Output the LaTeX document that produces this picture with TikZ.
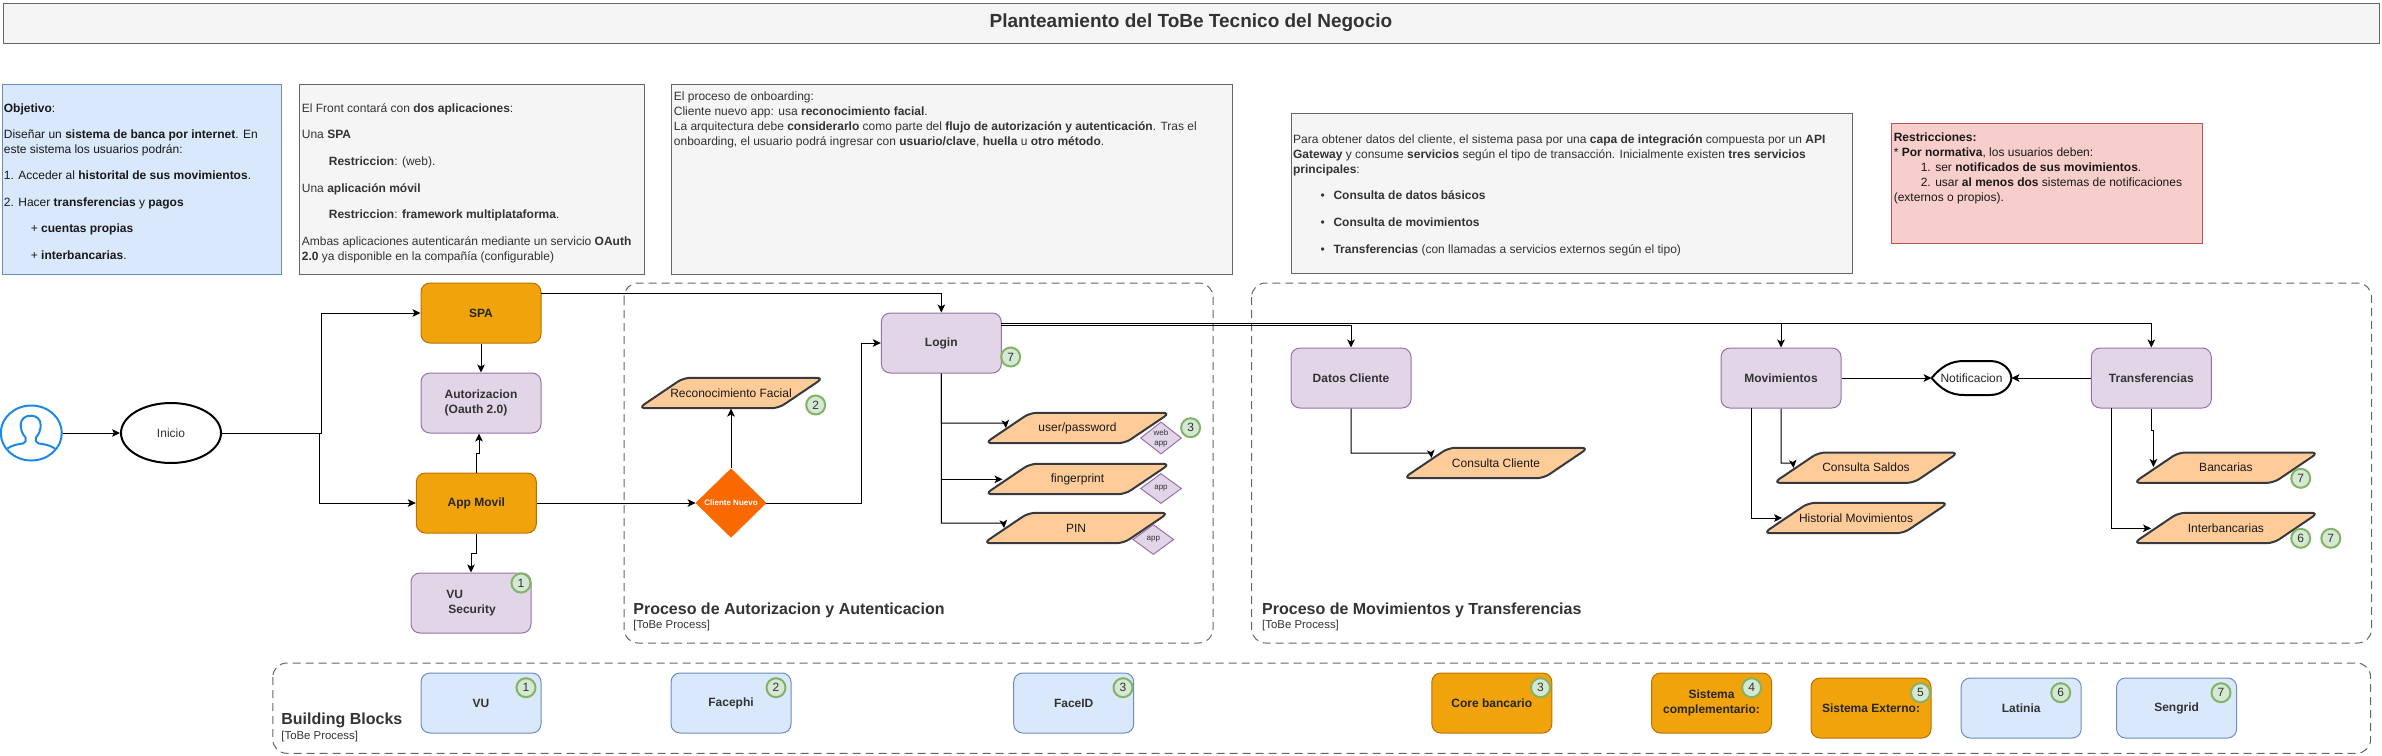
\documentclass[tikz,border=0pt]{standalone}
\usepackage{fontspec}
\setmainfont{Liberation Sans}
\usetikzlibrary{shapes.geometric,arrows.meta,calc}
\definecolor{ink}{HTML}{333333}
\definecolor{grayfill}{HTML}{F5F5F5}
\definecolor{graybd}{HTML}{666666}
\definecolor{bluefill}{HTML}{DAE8FC}
\definecolor{bluebd}{HTML}{6C8EBF}
\definecolor{redfill}{HTML}{F8CECC}
\definecolor{redbd}{HTML}{B85450}
\definecolor{purfill}{HTML}{E1D5E7}
\definecolor{purbd}{HTML}{9673A6}
\definecolor{orgfill}{HTML}{F0A30A}
\definecolor{orgbd}{HTML}{BD7000}
\definecolor{parafill}{HTML}{FFCC99}
\definecolor{parabd}{HTML}{36393D}
\definecolor{badgefill}{HTML}{D5E8D4}
\definecolor{badgebd}{HTML}{82B366}
\definecolor{dmdfill}{HTML}{FA6800}
\definecolor{userblue}{HTML}{1E88E5}
\newcommand{\ftn}{\fontsize{6}{7.5}\selectfont}
\newcommand{\ind}{\hspace*{13.5pt}}
\newcommand{\bul}{\hspace*{13.7pt}\makebox[6.5pt][l]{•}}
\newcommand{\paranode}[4]{%
  \draw[parashape,shift={(#2,#3)}] (-92.5,15.2) -- (-47.5,-15.2) -- (92.5,-15.2) -- (47.5,15.2) -- cycle;
  \node[paratext] (#1) at (#2,#3) {#4};}
\tikzset{
  panel/.style={draw,line width=.5pt,inner sep=0pt,anchor=north west},
  graypanel/.style={panel,draw=graybd,fill=grayfill},
  bluepanel/.style={panel,draw=bluebd,fill=bluefill},
  redpanel/.style={panel,draw=redbd,fill=redfill},
  paneltext/.style={anchor=north west,inner sep=0pt,align=left,font=\ftn,text=ink},
  rbox/.style={rectangle,rounded corners=4.5pt,draw,line width=.5pt,minimum width=60pt,minimum height=30pt,inner sep=0pt,font=\ftn\bfseries,text=ink,align=center},
  purbox/.style={rbox,fill=purfill,draw=purbd},
  orgbox/.style={rbox,fill=orgfill,draw=orgbd,text=black!85},
  blubox/.style={rbox,fill=bluefill,draw=bluebd},
  parashape/.style={rounded corners=3.5pt,draw=parabd,fill=parafill,line width=1pt},
  paratext/.style={rectangle,minimum width=92.5pt,minimum height=15.2pt,inner sep=0pt,font=\ftn,text=black!90},
  tag/.style={diamond,draw=purbd,fill=purfill,line width=.5pt,minimum width=20.5pt,minimum height=15pt,inner sep=0pt,font=\fontsize{4}{5}\selectfont,text=ink,align=center},
  badge/.style={circle,draw=badgebd,fill=badgefill,line width=1pt,minimum size=9.5pt,inner sep=0pt,font=\ftn,text=ink},
  group/.style={draw=graybd,dash pattern=on 4pt off 2.5pt,line width=.5pt,rounded corners=7pt,fill=none},
  grouptitle/.style={anchor=west,inner sep=0pt,font=\fontsize{8}{9}\selectfont\bfseries,text=ink},
  groupsub/.style={anchor=west,inner sep=0pt,font=\fontsize{5.7}{7}\selectfont,text=ink},
  conn/.style={draw=black,line width=.5pt,-{Stealth[length=4pt,width=3.8pt,inset=1pt]}},
}
\begin{document}
\begin{tikzpicture}[x=.5pt,y=-.5pt]
\useasboundingbox (0,0) rectangle (2382,755);

% title
\node[panel,draw=graybd,fill=grayfill,anchor=center,minimum width=1188pt,minimum height=20pt,font=\fontsize{9.5}{11}\selectfont\bfseries,text=ink] (title) at (1191,23) {Planteamiento del ToBe Tecnico del Negocio};

% description panels
\node[bluepanel,minimum width=139.5pt,minimum height=95pt] (pObj) at (2,84) {};
\node[graypanel,minimum width=172.5pt,minimum height=95pt] (pFront) at (299,84) {};
\node[graypanel,minimum width=280.5pt,minimum height=95pt] (pOnb) at (671,84) {};
\node[graypanel,minimum width=280.5pt,minimum height=80pt] (pDatos) at (1291,113) {};
\node[redpanel,minimum width=155.5pt,minimum height=60pt] (pRes) at (1891,123) {};

\node[paneltext,text=black!90] (tObj) at (3.5,103) {\textbf{Objetivo}:\\[5.8pt]
Diseñar un \textbf{sistema de banca por internet}. En\\
este sistema los usuarios podrán:\\[5.5pt]
1. Acceder al \textbf{historital de sus movimientos}.\\[5.8pt]
2. Hacer \textbf{transferencias} y \textbf{pagos}\\[5.8pt]
\ind + \textbf{cuentas propias}\\[5.8pt]
\ind + \textbf{interbancarias}.};

\node[paneltext] (tFront) at (301.5,103) {El Front contará con \textbf{dos aplicaciones}:\\[5.8pt]
Una \textbf{SPA}\\[5.8pt]
\ind \textbf{Restriccion}: (web).\\[5.8pt]
Una \textbf{aplicación móvil}\\[5.8pt]
\ind \textbf{Restriccion}: \textbf{framework multiplataforma}.\\[5.8pt]
Ambas aplicaciones autenticarán mediante un servicio \textbf{OAuth}\\
\textbf{2.0} ya disponible en la compañía (configurable)};

\node[paneltext] (tOnb) at (673.5,91.5) {El proceso de onboarding:\\
Cliente nuevo app: usa \textbf{reconocimiento facial}.\\
La arquitectura debe \textbf{considerarlo} como parte del \textbf{flujo de autorización y autenticación}. Tras el\\
onboarding, el usuario podrá ingresar con \textbf{usuario/clave}, \textbf{huella} u \textbf{otro método}.};

\node[paneltext] (tDatos) at (1292.7,134) {Para obtener datos del cliente, el sistema pasa por una \textbf{capa de integración} compuesta por un \textbf{API}\\
\textbf{Gateway} y consume \textbf{servicios} según el tipo de transacción. Inicialmente existen \textbf{tres servicios}\\
\textbf{principales}:\\[5.8pt]
\bul \textbf{Consulta de datos básicos}\\[5.8pt]
\bul \textbf{Consulta de movimientos}\\[5.8pt]
\bul \textbf{Transferencias} (con llamadas a servicios externos según el tipo)};

\node[paneltext,text=black!90] (tRes) at (1893.4,132) {\textbf{Restricciones:}\\
* \textbf{Por normativa}, los usuarios deben:\\
\ind 1. ser \textbf{notificados de sus movimientos}.\\
\ind 2. usar \textbf{al menos dos} sistemas de notificaciones\\
(externos o propios).};

% groups
\draw[group] (624,283) rectangle (1213,643);
\draw[group] (1251.6,283) rectangle (2371.6,643);
\draw[group] (272.8,663) rectangle (2370.6,753.3);
\node[grouptitle] (gt1) at (633,610) {Proceso de Autorizacion y Autenticacion};
\node[groupsub] (gs1) at (633,626) {[ToBe Process]};
\node[grouptitle] (gt2) at (1261.8,610) {Proceso de Movimientos y Transferencias};
\node[groupsub] (gs2) at (1261.8,626) {[ToBe Process]};
\node[grouptitle] (gt3) at (281,720.7) {Building Blocks};
\node[groupsub] (gs3) at (281,737) {[ToBe Process]};

% left column
\node[ellipse,draw=userblue,line width=1pt,minimum width=30.5pt,minimum height=27.5pt,inner sep=0pt] (user) at (31.3,433) {};
\draw[userblue,line width=1pt] (7.5,448.5) .. controls (12,445) and (19,444) .. (23,443.5) .. controls (25.5,443) and (26.5,440) .. (25.5,437.5) .. controls (22.5,434) and (20.7,430) .. (20.7,425) .. controls (20.7,419) and (25,415.7) .. (30.7,415.7) .. controls (36.5,415.7) and (40.7,419) .. (40.7,425) .. controls (40.7,430) and (39,434) .. (36,437.5) .. controls (35,440) and (36,443) .. (38.5,443.5) .. controls (43,444) and (50,445) .. (55,448.5);
\node[ellipse,draw=black,line width=1pt,fill=white,minimum width=50pt,minimum height=30pt,inner sep=0pt,font=\ftn,text=ink] (ini) at (171,433) {Inicio};
\node[orgbox] (spa) at (481,313) {SPA};
\node[purbox] (auth) at (481,403) {\begin{tabular}{@{}l@{}}Autorizacion\\(Oauth 2.0)\end{tabular}};
\node[orgbox] (app) at (476.3,503) {App Movil};
\node[purbox] (vus) at (471,603) {\begin{tabular}{@{}l@{}}VU\\\,Security\end{tabular}};

% auth group
\node[purbox] (login) at (941.3,343) {Login};
\paranode{pRec}{731}{393}{Reconocimiento Facial}
\node[diamond,fill=dmdfill,draw=dmdfill,minimum width=35pt,minimum height=34.3pt,inner sep=0pt,font=\fontsize{4}{5}\selectfont\bfseries,text=white] (dec) at (731,503) {Cliente Nuevo};
\paranode{pUser}{1077.5}{428}{user/password}
\paranode{pFin}{1077.5}{479}{fingerprint}
\paranode{pPin}{1076}{528}{PIN}
\node[tag] (tagA) at (1161,438) {web\\app};
\node[tag] (tagB) at (1161,488.5) {app};
\node[tag] (tagC) at (1153.3,539.5) {app};

% data group
\node[purbox] (datos) at (1351,378) {Datos Cliente};
\node[purbox] (mov) at (1781,378) {Movimientos};
\node[purbox] (trans) at (2151.3,378) {Transferencias};
\node[rectangle,minimum width=39.5pt,minimum height=17pt,inner sep=0pt,font=\ftn,text=black!85] (notif) at (1971.5,378) {Notificacion};
\draw[black,line width=1pt] (notif.west) .. controls (1941,367) and (1950,361) .. (1964,361) -- (1990,361) .. controls (2003,361) and (2011,370) .. (notif.east) .. controls (2011,386) and (2003,395) .. (1990,395) -- (1964,395) .. controls (1950,395) and (1941,389) .. (notif.west);
\paranode{pCC}{1496}{463}{Consulta Cliente}
\paranode{pCS}{1866}{467.7}{Consulta Saldos}
\paranode{pHM}{1856}{518}{Historial Movimientos}
\paranode{pBan}{2225.9}{467.7}{Bancarias}
\paranode{pInt}{2225.9}{528}{Interbancarias}

% building blocks
\node[blubox] (bVU) at (481,703) {VU};
\node[blubox] (bFace) at (731,703) {Facephi};
\node[blubox] (bFID) at (1073.7,703) {FaceID};
\node[orgbox] (bCore) at (1491.8,703) {Core bancario};
\node[orgbox] (bComp) at (1711.5,703) {Sistema\\complementario:};
\node[orgbox] (bExt) at (1871,708) {Sistema Externo:};
\node[blubox] (bLat) at (2021.2,708) {Latinia};
\node[blubox] (bSen) at (2176.6,708) {Sengrid};

% connectors
\coordinate (jUp) at (321.5,433);
\coordinate (jDown) at (319,433);
\draw[conn] (user.east) -- (ini.west);
\draw[conn] (ini.east) -- (jUp) |- (spa.west);
\draw[conn] (jDown) |- (app.west);
\draw[conn] (spa.south) -- (auth.north);
\coordinate (a2) at (476.3,453);
\coordinate (a3) at (479,453);
\draw[conn] (app.north) -- (a2) -- (a3) -- (a3 |- auth.south);
\coordinate (v2) at (476.3,553);
\coordinate (v3) at (471,553);
\draw[conn] (app.south) -- (v2) -- (v3) -- (vus.north);
\coordinate (spaOut) at (541,293);
\draw[conn] (spaOut) -| (login.north);
\draw[conn] (app.east) -- (dec.west);
\draw[conn] (dec.north) -- (pRec.south);
\coordinate (k1) at (861,503);
\draw[conn] (dec.east) -- (k1) |- (login.west);
\coordinate (cU1) at (1005.5,423);
\coordinate (cU2) at (1006,428);
\coordinate (cF) at (1002.5,479.3);
\coordinate (cP1) at (1003.6,523);
\coordinate (cP2) at (1004.1,528);
\draw[conn] (login.south) |- (cU1) -- (cU2);
\draw[conn] (login.south) |- (cF);
\draw[conn] (login.south) |- (cP1) -- (cP2);
\coordinate (lo1) at (1001.3,323);
\coordinate (lo2) at (1001.3,325.7);
\draw[conn] (lo1) -| (trans.north);
\draw[conn] (lo1) -| (mov.north);
\draw[conn] (lo2) -| (datos.north);
\coordinate (cC1) at (1431,453);
\coordinate (cC2) at (1431.5,458);
\draw[conn] (datos.south) |- (cC1) -- (cC2);
\coordinate (cS1) at (1793,463);
\coordinate (cS2) at (1793.5,468);
\draw[conn] (mov.south) |- (cS1) -- (cS2);
\coordinate (mS) at (1751.5,408);
\coordinate (cH) at (1782,518);
\draw[conn] (mS) |- (cH);
\draw[conn] (mov.east) -- (notif.west);
\draw[conn] (trans.west) -- (notif.east);
\coordinate (b1) at (2151.3,430.7);
\coordinate (b2) at (2153.4,430.7);
\coordinate (b3) at (2153.4,467);
\draw[conn] (trans.south) -- (b1) -- (b2) -- (b3);
\coordinate (tS) at (2111.4,408);
\coordinate (cI) at (2151,528.3);
\draw[conn] (tS) |- (cI);

% badges
\node[badge] (n1) at (521,583) {1};
\node[badge] (n2) at (815.7,405) {2};
\node[badge] (n3) at (1190.6,427.7) {3};
\node[badge] (n4) at (1010.7,357) {7};
\node[badge] (n5) at (2300.7,478.3) {7};
\node[badge] (n6) at (2300.7,538.3) {6};
\node[badge] (n7) at (2330.8,538.3) {7};
\node[badge] (m1) at (526,687.7) {1};
\node[badge] (m2) at (776,687.7) {2};
\node[badge] (m3) at (1123,687.7) {3};
\node[badge] (m4) at (1540.5,687.7) {3};
\node[badge] (m5) at (1751.6,687.7) {4};
\node[badge] (m6) at (1920.5,692.7) {5};
\node[badge] (m7) at (2060.7,692.7) {6};
\node[badge] (m8) at (2221,692.7) {7};
\end{tikzpicture}
\end{document}
